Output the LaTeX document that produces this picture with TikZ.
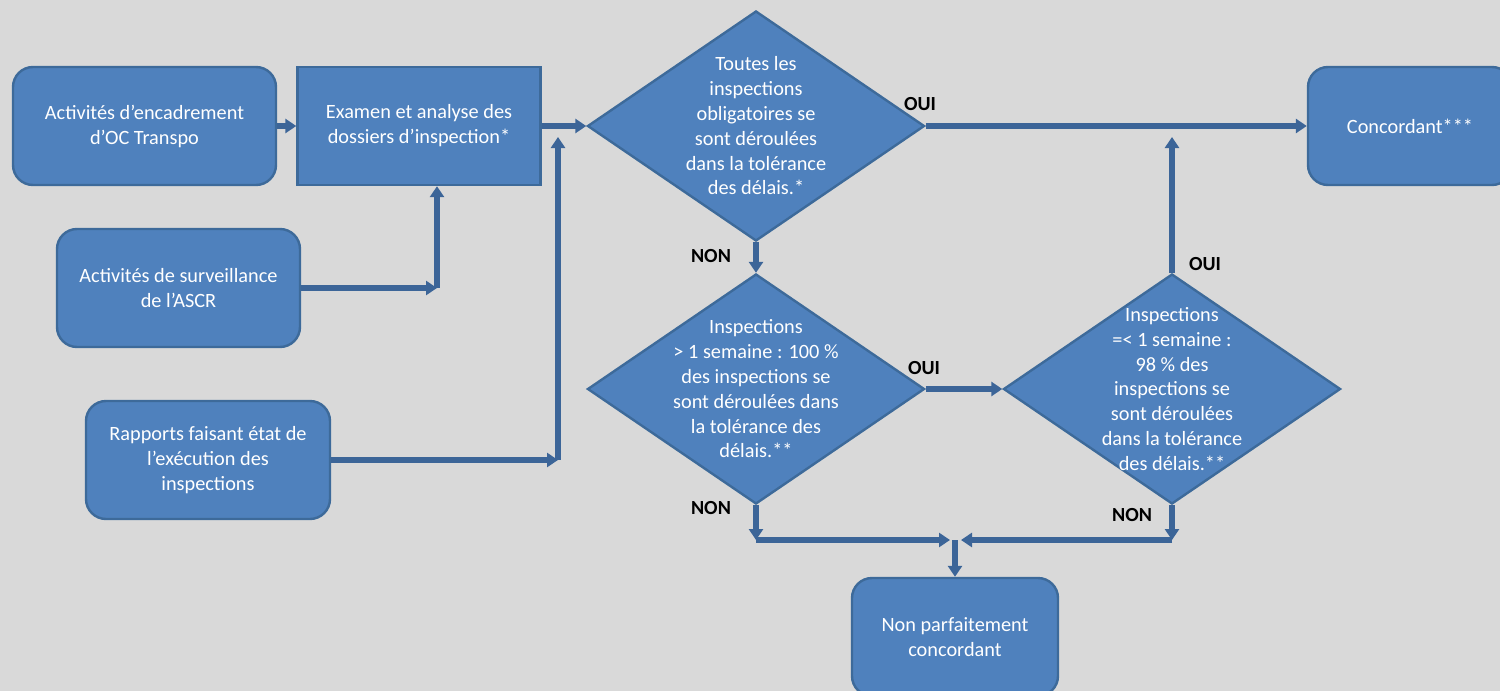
\documentclass[tikz,border=0pt]{standalone}
\usepackage{fontspec}
\setmainfont{Carlito}
\usetikzlibrary{shapes,arrows.meta,positioning,calc}
\definecolor{bgcol}{HTML}{D9D9D9}
\definecolor{boxfill}{HTML}{4F81BD}
\definecolor{boxline}{HTML}{3D6A9A}
\definecolor{linkcol}{HTML}{3C6598}

\begin{document}
\begin{tikzpicture}[
    x=0.5pt, y=-0.5pt,
    block/.style={rectangle, draw=boxline, line width=1.2pt, fill=boxfill, text=white, align=center, minimum width=121.5pt, minimum height=59pt, rounded corners=10pt, inner sep=2pt, font=\fontsize{10.15}{12.5}\selectfont},
    sharpblock/.style={block, sharp corners},
    decision/.style={diamond, draw=boxline, line width=1.2pt, fill=boxfill, minimum width=168.5pt, minimum height=115pt, inner sep=0pt},
    dtext/.style={text=white, align=center, font=\fontsize{10.15}{12.4}\selectfont},
    arrow/.style={-{Triangle[length=5.5pt,width=7pt]}, line width=2.6pt, draw=linkcol},
    answer/.style={font=\fontsize{10}{12}\selectfont\bfseries, text=black}
]
    % Background
    \fill[bgcol] (0,0) rectangle (1500,691);
    \useasboundingbox (0,0) rectangle (1500,691);

    % Sources
    \node[block, minimum width=131.5pt] (encad) at (144.5,126) {Activités d’encadrement\\d’OC Transpo};
    \node[sharpblock] (exam) at (419,126) {Examen et analyse des\\dossiers d’inspection*};
    \node[block] (surv) at (178.5,288) {Activités de surveillance\\de l’ASCR};
    \node[block, minimum width=122pt] (rapp) at (208,460) {Rapports faisant état de\\l’exécution des\\inspections};

    % Decisions
    \node[decision, label={[dtext]center:{Toutes les\\inspections\\obligatoires se\\sont déroulées\\dans la tolérance\\des délais.*}}] (dec1) at (756,126) {};
    \node[decision, label={[dtext]center:{Inspections\\> 1 semaine : 100 \%\\des inspections se\\sont déroulées dans\\la tolérance des\\délais.**}}] (dec2) at (756,389) {};
    \node[decision, label={[dtext]center:{Inspections\\=< 1 semaine :\\98 \% des\\inspections se\\sont déroulées\\dans la tolérance\\des délais.**}}] (dec3) at (1172,389) {};

    % Results
    \node[block, minimum width=102pt] (conc) at (1410,126) {Concordant***};
    \node[block, minimum width=103pt] (nonconc) at (955,637) {Non parfaitement\\concordant};

    % Junctions
    \coordinate (cj) at (437,288);
    \coordinate (dj) at (558,460);
    \coordinate (dtop) at (558,137);
    \coordinate (up3) at (1172,137);
    \coordinate (j2) at (756,540);
    \coordinate (j3) at (1172,540);
    \coordinate (m2) at (950,540);
    \coordinate (m3) at (961,540);
    \coordinate (mid) at (955,540);

    % Arrows
    \draw[arrow] (encad) -- (exam);
    \draw[arrow] (exam) -- (dec1);
    \draw[arrow] (surv.east) -- (cj);
    \draw[arrow] (cj) -- (cj |- exam.south);
    \draw[arrow] (rapp.east) -- (dj);
    \draw[arrow] (dj) -- (dtop);
    \draw[arrow] (dec1.east) -- (conc.west);
    \draw[arrow] (dec1.south) -- (dec2.north);
    \draw[arrow] (dec2.east) -- (dec3.west);
    \draw[arrow] (dec3.north) -- (up3);
    \draw[arrow] (dec2.south) -- (j2);
    \draw[arrow] (dec3.south) -- (j3);
    \draw[arrow] (j2) -- (m2);
    \draw[arrow] (j3) -- (m3);
    \draw[arrow] (mid) -- (mid |- nonconc.north);

    % Labels
    \node[answer] (oui1) at (920,104) {OUI};
    \node[answer] (non1) at (711,256) {NON};
    \node[answer] (oui2) at (924,368) {OUI};
    \node[answer] (oui3) at (1205,264) {OUI};
    \node[answer] (non2) at (711,508) {NON};
    \node[answer] (non3) at (1132,515) {NON};
\end{tikzpicture}
\end{document}
